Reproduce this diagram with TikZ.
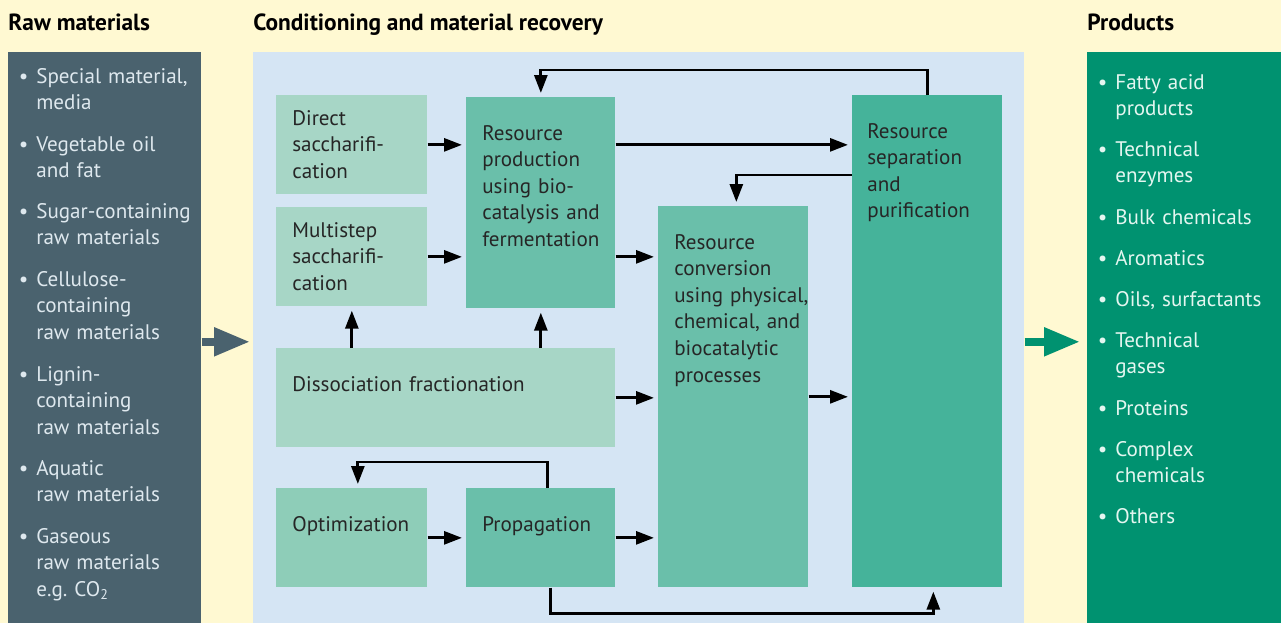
\documentclass[tikz,border=0pt]{standalone}
\usepackage{fontspec}
\setmainfont{PT Sans}
\usetikzlibrary{arrows.meta,calc,positioning}

\definecolor{bgyellow}{RGB}{255,249,210}
\definecolor{rawgrey}{RGB}{74,98,110}
\definecolor{condblue}{RGB}{213,229,244}
\definecolor{prodgreen}{RGB}{0,146,112}
\definecolor{boxlight}{RGB}{167,214,198}
\definecolor{boxmid}{RGB}{142,205,184}
\definecolor{boxteal}{RGB}{106,191,170}
\definecolor{boxdark}{RGB}{69,179,154}
\definecolor{rawtext}{RGB}{222,232,238}
\definecolor{prodtext}{RGB}{228,246,240}

\newcommand{\itm}{\leavevmode\llap{\textbullet\hspace{4.5pt}}}

\tikzset{
  panel/.style={anchor=north west, inner sep=0pt, minimum height=11.42cm},
  stage/.style={anchor=north west, inner sep=0pt},
  txt/.style={anchor=base west, inner sep=0pt, align=left, text width=3.2cm,
    font=\fontsize{12}{15.14}\selectfont, text=black!85},
  title/.style={anchor=base west, inner sep=0pt, font=\fontsize{13.3}{16}\selectfont\bfseries},
  rawitem/.style={anchor=base west, inner sep=0pt, align=left, text width=3.3cm,
    font=\fontsize{12}{15.14}\selectfont, text=rawtext},
  proditem/.style={anchor=base west, inner sep=0pt, align=left, text width=3.3cm,
    font=\fontsize{12}{15.14}\selectfont, text=prodtext},
  flow/.style={-{Triangle[length=0.36cm,width=0.26cm]}, line width=1.6pt, shorten >=0.08cm},
  bigarrow/.style={-{Triangle[length=0.72cm,width=0.54cm]}, line width=0.16cm}
}

\begin{document}
\begin{tikzpicture}[x=0.02cm, y=-0.02cm]
  % background
  \fill[bgyellow] (0,0) rectangle (1281,623);
  \useasboundingbox (0,0) rectangle (1281,623);

  % headings
  \node[title] (rawtitle) at (8,30) {Raw materials};
  \node[title] (condtitle) at (253,30) {Conditioning and material recovery};
  \node[title] (prodtitle) at (1087,30) {Products};

  % the three columns
  \node[panel, fill=rawgrey, minimum width=3.86cm] (raw) at (8,52) {};
  \node[panel, fill=condblue, minimum width=15.42cm] (cond) at (253,52) {};
  \node[panel, fill=prodgreen, minimum width=3.88cm] (prods) at (1087,52) {};

  % raw materials
  \node[rawitem] (raw1) at (36,83) {\itm Special material,\\ media};
  \node[rawitem] (raw2) at (36,151) {\itm Vegetable oil\\ and fat};
  \node[rawitem] (raw3) at (36,218) {\itm Sugar-containing\\ raw materials};
  \node[rawitem] (raw4) at (36,286) {\itm Cellulose-\\ containing\\ raw materials};
  \node[rawitem] (raw5) at (36,381) {\itm Lignin-\\ containing\\ raw materials};
  \node[rawitem] (raw6) at (36,475) {\itm Aquatic\\ raw materials};
  \node[rawitem] (raw7) at (36,543) {\itm Gaseous\\ raw materials\\ e.g.\ CO\textsubscript{2}};

  % products
  \node[proditem] (prod1) at (1115,89) {\itm Fatty acid\\ products};
  \node[proditem] (prod2) at (1115,156) {\itm Technical\\ enzymes};
  \node[proditem] (prod3) at (1115,224) {\itm Bulk chemicals};
  \node[proditem] (prod4) at (1115,265) {\itm Aromatics};
  \node[proditem] (prod5) at (1115,306) {\itm Oils, surfactants};
  \node[proditem] (prod6) at (1115,347) {\itm Technical\\ gases};
  \node[proditem] (prod7) at (1115,415) {\itm Proteins};
  \node[proditem] (prod8) at (1115,456) {\itm Complex\\ chemicals};
  \node[proditem] (prod9) at (1115,523) {\itm Others};

  % process stages
  \node[stage, fill=boxlight, minimum width=3.02cm, minimum height=1.98cm] (direct) at (276,95) {};
  \node[stage, fill=boxlight, minimum width=3.02cm, minimum height=1.98cm] (multi) at (276,207) {};
  \node[stage, fill=boxteal, minimum width=2.98cm, minimum height=4.22cm] (prodn) at (466,97) {};
  \node[stage, fill=boxlight, minimum width=6.78cm, minimum height=1.98cm] (diss) at (276,348) {};
  \node[stage, fill=boxmid, minimum width=3.02cm, minimum height=1.98cm] (optim) at (276,488) {};
  \node[stage, fill=boxteal, minimum width=2.98cm, minimum height=1.98cm] (propag) at (466,488) {};
  \node[stage, fill=boxteal, minimum width=3.0cm, minimum height=7.62cm] (conv) at (658,206) {};
  \node[stage, fill=boxdark, minimum width=3.0cm, minimum height=9.84cm] (sep) at (852,95) {};

  \node[txt] (direct-t) at (292,125) {Direct\\ saccharifi-\\ cation};
  \node[txt] (multi-t) at (292,237) {Multistep\\ saccharifi-\\ cation};
  \node[txt] (prodn-t) at (482,140) {Resource\\ production\\ using bio-\\ catalysis and\\ fermentation};
  \node[txt, text width=5cm] (diss-t) at (292,391) {Dissociation fractionation};
  \node[txt] (optim-t) at (292,531) {Optimization};
  \node[txt] (propag-t) at (482,531) {Propagation};
  \node[txt] (conv-t) at (674,249) {Resource\\ conversion\\ using physical,\\ chemical, and\\ biocatalytic\\ processes};
  \node[txt] (sep-t) at (867,138) {Resource\\ separation\\ and\\ purification};

  % flows
  \draw[flow] (direct.east) -- (direct -| prodn.west);
  \draw[flow] (multi.east) -- (multi -| prodn.west);
  \draw[flow] (direct -| prodn.east) -- (direct -| sep.west);
  \draw[flow] (multi -| prodn.east) -- (multi -| conv.west);
  \draw[flow] (diss.north -| multi) -- (multi.south);
  \draw[flow] (diss.north -| prodn) -- (prodn.south);
  \draw[flow] (diss.east) -- (diss -| conv.west);
  \draw[flow] (optim.east) -- (propag.west);
  \draw[flow] (propag.east) -- (propag -| conv.west);
  \draw[flow] (conv.east) -- (conv -| sep.west);
  \draw[flow] (sep.north) -- ++(0,-25) -| (prodn.north);
  \draw[flow] ($(sep.north west)+(0,80)$) -| ($(conv.north)+(3,0)$);
  \draw[flow] ($(propag.north)+(7,0)$) -- ++(0,-26) -| ($(optim.north)+(6,0)$);
  \draw[flow] ($(propag.south)+(10,0)$) -- ++(0,26) -| ($(sep.south)+(6,0)$);

  % in and out
  \draw[bigarrow, rawgrey, shorten >=0.06cm] ($(raw.east)+(0,4)$) -- ($(cond.west)+(0,4)$);
  \draw[bigarrow, prodgreen, shorten >=0.14cm] ($(cond.east)+(0,4)$) -- ($(prods.west)+(0,4)$);
\end{tikzpicture}
\end{document}
